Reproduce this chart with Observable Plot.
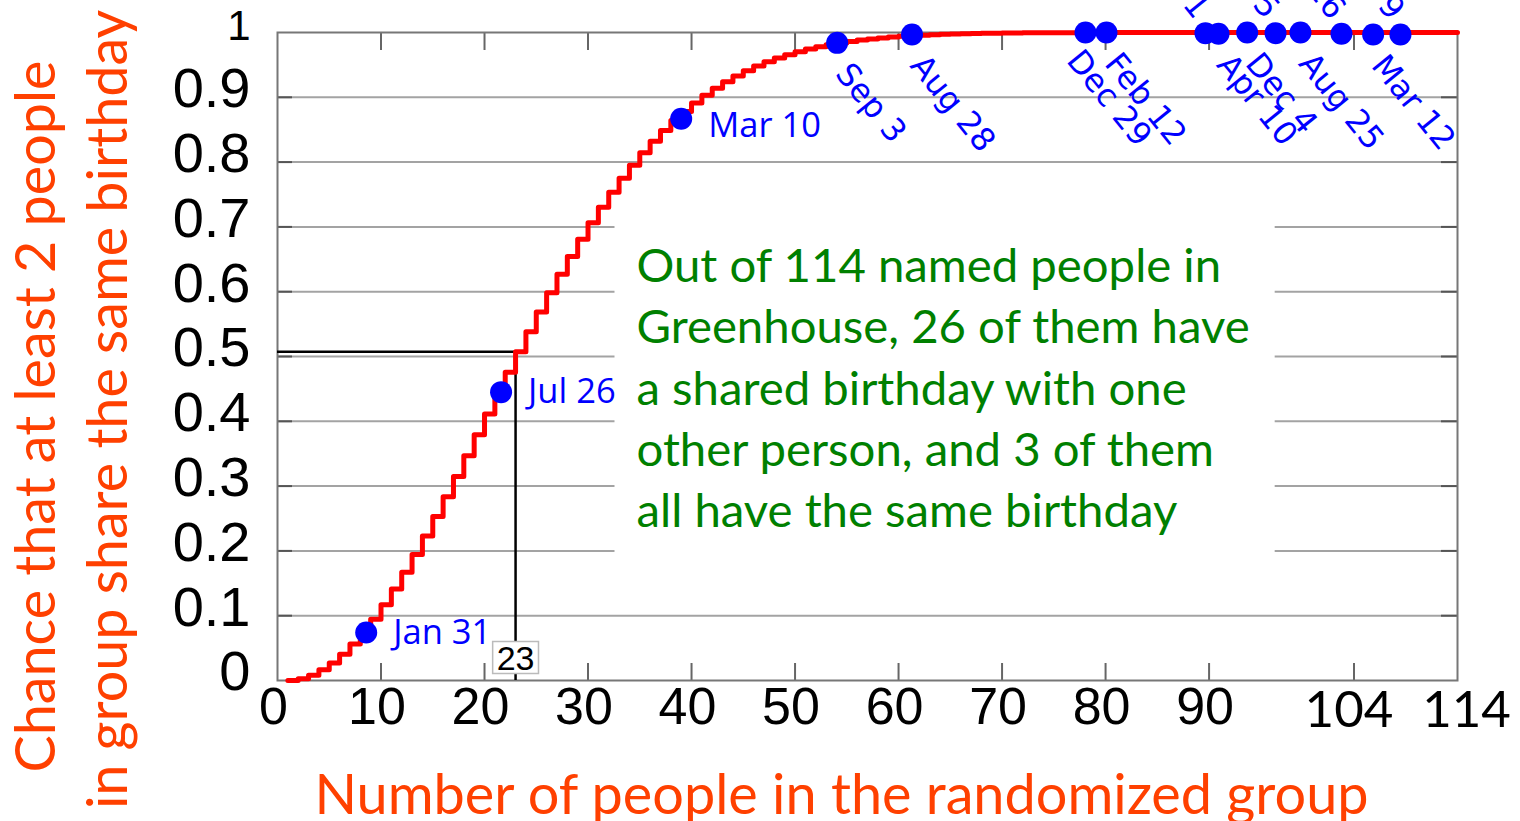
<!DOCTYPE html>
<html><head><meta charset="utf-8">
<script src="https://cdn.jsdelivr.net/npm/d3@7"></script>
<script src="https://cdn.jsdelivr.net/npm/@observablehq/plot@0.6"></script>
<style>html,body{margin:0;padding:0;background:#fff;} #chart{width:1520px;height:821px;overflow:hidden}</style>
</head><body><div id="chart"></div>
<script>
// Probability that at least 2 of n people share a birthday, n = 1..114
const probability = [
  0, 0.0027, 0.0082, 0.0164, 0.0271, 0.0405, 0.0562, 0.0743, 0.0946, 0.1169,
  0.1411, 0.1670, 0.1944, 0.2231, 0.2529, 0.2836, 0.3150, 0.3469, 0.3791, 0.4114,
  0.4437, 0.4757, 0.5073, 0.5383, 0.5687, 0.5982, 0.6269, 0.6545, 0.6810, 0.7063,
  0.7305, 0.7533, 0.7750, 0.7953, 0.8144, 0.8322, 0.8487, 0.8641, 0.8782, 0.8912,
  0.9032, 0.9140, 0.9239, 0.9329, 0.9410, 0.9483, 0.9548, 0.9606, 0.9658, 0.9704,
  0.9744, 0.9780, 0.9811, 0.9839, 0.9863, 0.9883, 0.9901, 0.9917, 0.9930, 0.9941,
  0.9951, 0.9959, 0.9966, 0.9972, 0.9977, 0.9981, 0.9984, 0.9987, 0.9990, 0.9992,
  0.9993, 0.9995, 0.9996, 0.9997, 0.9997, 0.9998, 0.9998, 0.9999, 0.9999, 0.9999,
  0.9999, 1, 1, 1, 1, 1, 1, 1, 1, 1,
  1, 1, 1, 1, 1, 1, 1, 1, 1, 1,
  1, 1, 1, 1, 1, 1, 1, 1, 1, 1,
  1, 1, 1, 1
];
const thresholdN = 23;

const xTickValues = [0, 10, 20, 30, 40, 50, 60, 70, 80, 90];
const xTickLabels = ["0", "10", "20", "30", "40", "50", "60", "70", "80", "90"];
const xExtraTickValues = [104, 114];
const xExtraTickLabels = ["104", "114"];
const xMarkTicks = [10, 20, 30, 40, 50, 60, 70, 80, 90, 104];
const yTickValues = [0, 0.1, 0.2, 0.3, 0.4, 0.5, 0.6, 0.7, 0.8, 0.9];
const yTickLabels = ["0", "0.1", "0.2", "0.3", "0.4", "0.5", "0.6", "0.7", "0.8", "0.9"];
const yTopTickValues = [1];
const yTopTickLabels = ["1"];
const gridValues = [0.1, 0.2, 0.3, 0.4, 0.5, 0.6, 0.7, 0.8, 0.9];

// Named birthdays placed on the curve
const pointN = [8.57, 21.6, 39.0, 54.07, 61.3, 78.06, 80.09, 89.65, 90.91, 93.68, 96.42, 98.83, 102.79, 105.85, 108.49];
const pointP = [0.074, 0.445, 0.867, 0.984, 0.997, 1.0, 1.0, 0.999, 0.998, 1.0, 0.999, 1.0, 0.998, 0.997, 0.997];
const pointLabel = ["Jan 31", "Jul 26", "Mar 10", "Sep 3", "Aug 28", "Dec 29", "Feb 12", "1", "Apr 10", "Dec 4", "5", "Aug 25", "16", "Mar 12", "9"];
const pointPlacement = ["right", "right", "rightLow", "below", "below", "belowLeft", "below", "above", "below", "below", "above", "below", "above", "below", "above"];

const annotationLines = [
  "Out of 114 named people in",
  "Greenhouse, 26 of them have",
  "a shared birthday with one",
  "other person, and 3 of them",
  "all have the same birthday"
];
const yTitleLines = ["Chance that at least 2 people", "in group share the same birthday"];
const xTitle = "Number of people in the randomized group";

// ---- build tables
const curve = probability.map((p, i) => ({n: i + 1, p}));
const thresholdP = probability[thresholdN - 1];
const points = pointN.map((n, i) => ({n, p: pointP[i], label: pointLabel[i], place: pointPlacement[i]}));
const placed = k => points.filter(d => d.place === k);

const W = 1520, H = 821, ML = 277, MR = 63, MT = 32, MB = 141;
const innerW = W - ML - MR, innerH = H - MT - MB;
const TITLE = "#ff4000", BLUE = "#0000ff", GREEN = "#008000";

const rightLabel = {x: "n", y: "p", text: "label", textAnchor: "start", lineAnchor: "middle", dx: 27,
  fontSize: 34.5, fontFamily: "Open Sans", fill: BLUE};
const rotLabel = {x: "n", y: "p", text: "label", lineAnchor: "middle", rotate: 51,
  fontSize: 32, fontFamily: "DejaVu Sans", fill: BLUE};

const svg = Plot.plot({
  width: W, height: H,
  marginLeft: ML, marginRight: MR, marginTop: MT, marginBottom: MB,
  style: {background: "white", overflow: "visible"},
  x: {domain: [0, 114], axis: null},
  y: {domain: [0, 1], axis: null},
  marks: [
    Plot.ruleY(gridValues, {stroke: "#a3a3a3", strokeWidth: 2}),
    Plot.ruleY(gridValues, {stroke: "#555", strokeWidth: 2, insetRight: innerW - 15}),
    Plot.ruleY(gridValues, {stroke: "#555", strokeWidth: 2, insetLeft: innerW - 16}),
    Plot.ruleX(xMarkTicks, {stroke: "#666", strokeWidth: 2, insetTop: innerH - 17}),
    Plot.ruleX(xMarkTicks, {stroke: "#666", strokeWidth: 2, insetBottom: innerH - 18}),
    Plot.frame({stroke: "#777", strokeWidth: 2}),
    Plot.text([annotationLines.join("\n")], {
      text: d => d, frameAnchor: "top-left", dx: 359, dy: 206,
      textAnchor: "start", lineAnchor: "top", lineHeight: 1.296,
      fontSize: 47.3, fontFamily: "Lato", fill: GREEN, ariaDescription: "annotation"
    }),
    Plot.ruleY([thresholdP], {x1: () => 0, x2: () => thresholdN, stroke: "black", strokeWidth: 2.5}),
    Plot.ruleX([thresholdN], {y1: () => 0, y2: () => thresholdP, stroke: "black", strokeWidth: 2.5}),
    Plot.text([thresholdN], {
      x: d => d, y: () => 0, text: d => String(d), lineAnchor: "bottom", dy: -11,
      fontSize: 34, fontFamily: "Liberation Sans", fill: "black", ariaDescription: "threshold-label"
    }),
    Plot.line(curve, {x: "n", y: "p", curve: "step-after", stroke: "#ff0000", strokeWidth: 5}),
    Plot.dot(points, {x: "n", y: "p", r: 11, fill: BLUE, stroke: "none"}),
    Plot.text(placed("right"), rightLabel),
    Plot.text(placed("rightLow"), {...rightLabel, dy: 7}),
    Plot.text(placed("below"), {...rotLabel, textAnchor: "start", dx: 5, dy: 25}),
    Plot.text(placed("belowLeft"), {...rotLabel, textAnchor: "start", dx: -12, dy: 22}),
    Plot.text(placed("above"), {...rotLabel, textAnchor: "end", dx: -3, dy: -19}),
    // axis tick labels
    Plot.text(xTickValues, {
      x: d => d, text: (d, i) => xTickLabels[i], frameAnchor: "bottom", lineAnchor: "top", dx: -4, dy: 6.5,
      fontSize: 52, fontFamily: "Liberation Sans", fill: "black"
    }),
    Plot.text(xExtraTickValues.slice(0, 1), {
      x: d => d, text: () => xExtraTickLabels[0], frameAnchor: "bottom", lineAnchor: "top", dx: -5, dy: 10,
      fontSize: 51, fontFamily: "Lato", fill: "black"
    }),
    Plot.text(xExtraTickValues.slice(1), {
      x: d => d, text: () => xExtraTickLabels[1], frameAnchor: "bottom", lineAnchor: "top", dx: 9, dy: 10,
      fontSize: 51, fontFamily: "Lato", fill: "black"
    }),
    Plot.text(yTickValues, {
      y: d => d, text: (d, i) => yTickLabels[i], frameAnchor: "left", textAnchor: "end", lineAnchor: "middle",
      dx: -27, dy: -8, fontSize: 56, fontFamily: "Liberation Sans", fill: "black"
    }),
    Plot.text(yTopTickValues, {
      y: d => d, text: (d, i) => yTopTickLabels[i], frameAnchor: "left", textAnchor: "end", lineAnchor: "middle",
      dx: -27, dy: -6, fontSize: 42, fontFamily: "Liberation Sans", fill: "black"
    }),
    // axis titles
    Plot.text([xTitle], {
      text: d => d, frameAnchor: "bottom", textAnchor: "middle", lineAnchor: "bottom", dx: -26, dy: 133,
      fontSize: 55.8, fontFamily: "Lato", fill: TITLE
    }),
    Plot.text([yTitleLines[0]], {
      text: d => d, frameAnchor: "left", textAnchor: "middle", rotate: -90, lineAnchor: "bottom", dx: -223, dy: 60,
      fontSize: 55.7, fontFamily: "Lato", fill: TITLE
    }),
    Plot.text([yTitleLines[1]], {
      text: d => d, frameAnchor: "left", textAnchor: "middle", rotate: -90, lineAnchor: "bottom", dx: -151, dy: 53,
      fontSize: 55.7, fontFamily: "Lato", fill: TITLE
    })
  ]
});
document.getElementById("chart").append(svg);

// white boxes behind annotation and threshold label
function boxBehind(label, pad, fill, stroke) {
  const g = svg.querySelector(`g[aria-description="${label}"]`);
  if (!g) return;
  const t = g.querySelector("text");
  const b = t.getBBox();
  const r = document.createElementNS("http://www.w3.org/2000/svg", "rect");
  r.setAttribute("x", b.x - pad.left);
  r.setAttribute("y", b.y - pad.top);
  r.setAttribute("width", b.width + pad.left + pad.right);
  r.setAttribute("height", b.height + pad.top + pad.bottom);
  r.setAttribute("fill", fill);
  r.setAttribute("stroke", stroke);
  r.setAttribute("stroke-width", stroke === "none" ? 0 : 1.5);
  if (t.getAttribute("transform")) r.setAttribute("transform", t.getAttribute("transform"));
  g.insertBefore(r, t);
}
boxBehind("annotation", {left: 22, right: 25, top: 17, bottom: 22}, "white", "none");
boxBehind("threshold-label", {left: 4, right: 4, top: -3, bottom: -3}, "white", "#bbbbbb");
</script>
</body></html>
